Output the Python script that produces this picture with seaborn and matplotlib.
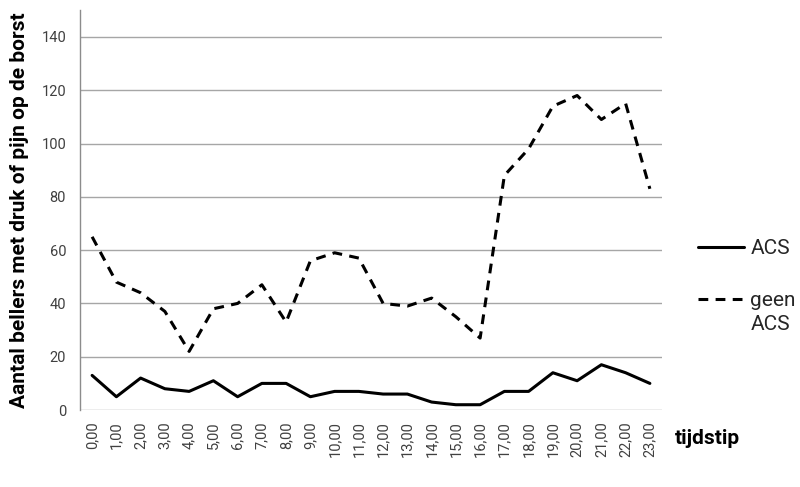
import matplotlib
matplotlib.use("Agg")
import matplotlib.pyplot as plt
import seaborn as sns
import pandas as pd

tijdstip = [f"{h},00" for h in range(24)]
acs = [13, 5, 12, 8, 7, 11, 5, 10, 10, 5, 7, 7, 6, 6, 3, 2, 2, 7, 7, 14, 11, 17, 14, 10]
geen_acs = [65, 48, 44, 37, 22, 38, 40, 47, 33, 56, 59, 57, 40, 39, 42, 35, 27, 88, 98, 114, 118, 109, 115, 83]
series_names = ["ACS", "geen\nACS"]
y_ticks = [0, 20, 40, 60, 80, 100, 120, 140]

df = pd.DataFrame({
    "tijdstip": tijdstip * 2,
    "waarde": acs + geen_acs,
    "reeks": [series_names[0]] * 24 + [series_names[1]] * 24,
})

sns.set_theme(style="white")
plt.rcParams["font.family"] = ["Roboto", "DejaVu Sans"]

fig = plt.figure(figsize=(8, 4.87), dpi=100)
ax = fig.add_axes([0.1, 0.158, 0.7275, 0.821])

sns.lineplot(data=df, x="tijdstip", y="waarde", style="reeks",
             style_order=series_names,
             dashes={series_names[0]: "", series_names[1]: (3.2, 2.4)},
             color="black", linewidth=2.2, ax=ax, legend=True, sort=False)

ax.set_xlim(-0.5, 23.5)
ax.set_ylim(0, 150)
ax.set_yticks(y_ticks)
ax.yaxis.grid(True, color="#a6a6a6", linewidth=1.0)
ax.set_axisbelow(True)
for s in ["top", "right"]:
    ax.spines[s].set_visible(False)
ax.spines["bottom"].set_visible(False)
ax.spines["left"].set_color("#8c8c8c")
ax.spines["left"].set_linewidth(1.0)
ax.tick_params(axis="both", length=0, labelsize=10.5, colors="#404040", pad=10)
ax.tick_params(axis="x", pad=8)
plt.setp(ax.get_xticklabels(), rotation=90)

ax.set_ylabel("Aantal bellers met druk of pijn op de borst", fontsize=15,
              fontweight="bold", color="black", labelpad=9)
ax.set_xlabel("")
fig.text(0.843, 0.1, "tijdstip", fontsize=15, fontweight="bold", color="black",
         ha="left", va="center")

leg = ax.legend(loc="upper left", bbox_to_anchor=(1.03, 0.475), frameon=False,
                fontsize=15, handlelength=2.2, handletextpad=0.3,
                labelspacing=1.6, title=None)
for line in leg.get_lines():
    line.set_linewidth(2.2)
leg.get_texts()[1].set_linespacing(1.35)
dash_handle = leg.get_lines()[1]
dash_handle.set_ydata([v + 10 for v in dash_handle.get_ydata()])

fig.savefig("out.png", dpi=100)
